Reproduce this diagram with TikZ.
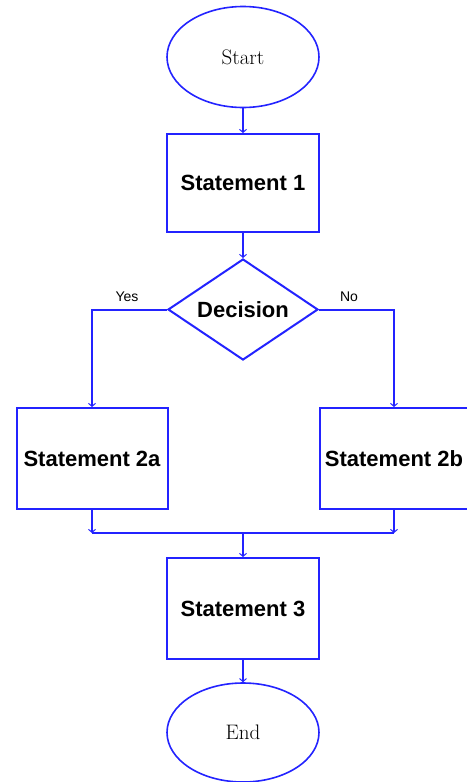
\documentclass[tikz,border=0pt]{standalone}
\usepackage{fontspec}
\setsansfont{Liberation Sans}
\usetikzlibrary{shapes.geometric,arrows.meta}
\definecolor{lineblue}{RGB}{35,35,255}
\begin{document}
\begin{tikzpicture}[x=1pt,y=-1pt,
  box/.style={draw=lineblue,line width=2pt,rectangle,inner sep=0pt,
    font=\sffamily\bfseries\fontsize{22}{24}\selectfont},
  term/.style={draw=lineblue,line width=1.6pt,ellipse,inner sep=0pt,
    minimum width=152pt,minimum height=101pt,font=\fontsize{21}{24}\selectfont},
  dec/.style={draw=lineblue,line width=2pt,diamond,aspect=1.5,inner sep=0pt,
    minimum width=150pt,minimum height=101pt,
    font=\sffamily\bfseries\fontsize{22}{24}\selectfont},
  conn/.style={draw=lineblue,line width=2pt},
  arr/.style={conn,-{Straight Barb[length=3pt,width=7pt,line width=1pt]}},
  lbl/.style={font=\sffamily\fontsize{14}{16}\selectfont,inner sep=0pt}]
\useasboundingbox (0,0) rectangle (466,782);
\node[term] (start) at (243,57) {Start};
\node[box,minimum width=152pt,minimum height=98pt] (s1) at (243,183) {Statement 1};
\node[dec] (d) at (243,309.5) {Decision};
\node[box,minimum width=151pt,minimum height=101pt] (s2a) at (92,458.5) {Statement 2a};
\node[box,minimum width=148pt,minimum height=101pt] (s2b) at (394,458.5) {Statement 2b};
\node[box,minimum width=152pt,minimum height=101pt] (s3) at (243,608.5) {Statement 3};
\node[term,minimum height=99pt] (end) at (243,732.5) {End};
\node[lbl] (yes) at (127,297) {Yes};
\node[lbl] (no) at (349,297) {No};
\coordinate (m1) at (92,533);
\coordinate (m2) at (394,533);
\coordinate (mc) at (243,533);
\draw[arr] (start) -- (s1);
\draw[arr] (s1) -- (d);
\draw[arr] (d.west) -| (s2a.north);
\draw[arr] (d.east) -| (s2b.north);
\draw[arr] (s2a.south) -- (m1);
\draw[arr] (s2b.south) -- (m2);
\draw[conn] (m1) -- (m2);
\draw[arr] (mc) -- (s3);
\draw[arr] (s3) -- (end);
\end{tikzpicture}
\end{document}
